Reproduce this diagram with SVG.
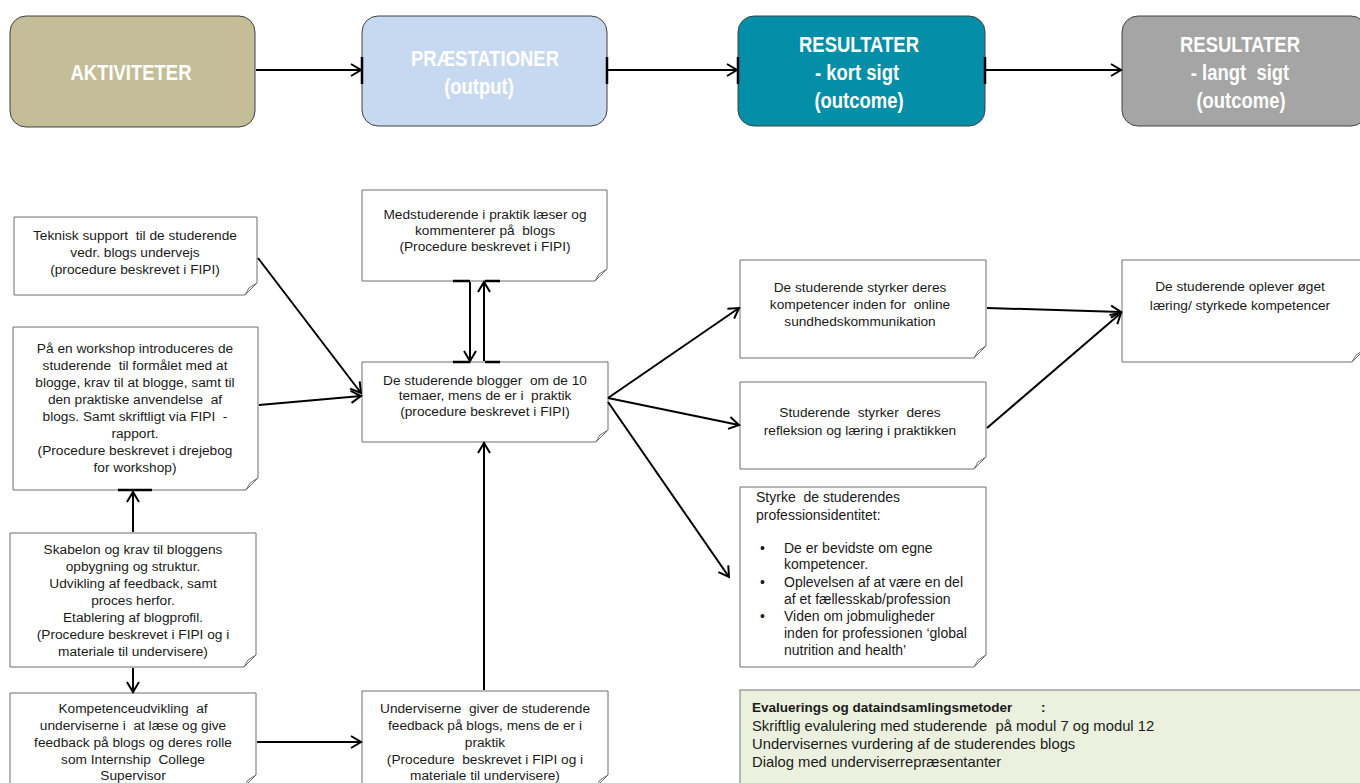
<svg xmlns="http://www.w3.org/2000/svg" width="1360" height="783" viewBox="0 0 1360 783">
<style>
text{font-family:"Liberation Sans",Arial,sans-serif;white-space:pre}
.hd{font-size:22px;font-weight:bold;fill:#ffffff;text-anchor:middle}
.nt{font-size:13.7px;fill:#1a1a1a;text-anchor:middle}
.lt{font-size:14px;fill:#1a1a1a}
.box{fill:#ffffff;stroke:#6e6e6e;stroke-width:1}
.fold{fill:#ffffff;stroke:#6e6e6e;stroke-width:1}
.hbox{stroke:#404040;stroke-width:1}
.cn{stroke:#000;stroke-width:2;fill:none;marker-end:url(#ah)}
.tk{stroke:#000;stroke-width:2.5}
.ev{font-size:14.8px;fill:#1a1a1a}
.evb{font-size:13.5px;font-weight:bold;fill:#1a1a1a}
</style>
<defs>
<marker id="ah" markerUnits="userSpaceOnUse" markerWidth="14" markerHeight="16" refX="12" refY="8" orient="auto">
<path d="M2,2 L12,8 L2,14" fill="none" stroke="#000" stroke-width="2"/>
</marker>
</defs>
<rect width="1360" height="783" fill="#ffffff"/>

<g id="hdr-aktiviteter">
<rect class="hbox" x="10" y="16" width="245" height="111" rx="16" fill="#c4bd97"/>
<text class="hd" transform="translate(131,80) scale(0.84,1)">AKTIVITETER</text>
</g>
<g id="hdr-praestationer">
<rect class="hbox" x="362" y="16" width="245" height="110" rx="16" fill="#c6d9f1"/>
<text class="hd" transform="translate(485,66) scale(0.84,1)">PRÆSTATIONER</text>
<text class="hd" transform="translate(479,94) scale(0.84,1)">(output)</text>
</g>
<g id="hdr-kort">
<rect class="hbox" x="738" y="16" width="247" height="110" rx="16" fill="#058ea8"/>
<text class="hd" transform="translate(859,52) scale(0.84,1)">RESULTATER</text>
<text class="hd" transform="translate(857,80) scale(0.84,1)">- kort sigt</text>
<text class="hd" transform="translate(859,108) scale(0.84,1)">(outcome)</text>
</g>
<g id="hdr-langt">
<rect class="hbox" x="1122" y="16" width="245" height="110" rx="16" fill="#a5a5a5"/>
<text class="hd" transform="translate(1240,52) scale(0.84,1)">RESULTATER</text>
<text class="hd" transform="translate(1240,80) scale(0.84,1)">- langt  sigt</text>
<text class="hd" transform="translate(1241,108) scale(0.84,1)">(outcome)</text>
</g>

<g id="n-teknisk">
<path class="box" d="M14,217 H257 V283 L245,295 H14 Z"/>
<path class="fold" d="M245,295 L249,288 L257,283 Z"/>
<text class="nt" x="135" y="240">Teknisk support  til de studerende</text>
<text class="nt" x="135" y="257">vedr. blogs undervejs</text>
<text class="nt" x="135" y="274">(procedure beskrevet i FIPI)</text>
</g>

<g id="n-workshop">
<path class="box" d="M13,327 H258 V478 L246,490 H13 Z"/>
<path class="fold" d="M246,490 L250,483 L258,478 Z"/>
<text class="nt" x="135" y="353">På en workshop introduceres de</text>
<text class="nt" x="135" y="370">studerende  til formålet med at</text>
<text class="nt" x="135" y="387">blogge, krav til at blogge, samt til</text>
<text class="nt" x="135" y="404">den praktiske anvendelse  af</text>
<text class="nt" x="135" y="421">blogs. Samt skriftligt via FIPI  -</text>
<text class="nt" x="135" y="438">rapport.</text>
<text class="nt" x="135" y="455">(Procedure beskrevet i drejebog</text>
<text class="nt" x="135" y="472">for workshop)</text>
</g>

<g id="n-skabelon">
<path class="box" d="M10,533 H256 V655 L244,667 H10 Z"/>
<path class="fold" d="M244,667 L248,660 L256,655 Z"/>
<text class="nt" x="133" y="554">Skabelon og krav til bloggens</text>
<text class="nt" x="133" y="571">opbygning og struktur.</text>
<text class="nt" x="133" y="588">Udvikling af feedback, samt</text>
<text class="nt" x="133" y="605">proces herfor.</text>
<text class="nt" x="133" y="622">Etablering af blogprofil.</text>
<text class="nt" x="133" y="639">(Procedure beskrevet i FIPI og i</text>
<text class="nt" x="133" y="656">materiale til undervisere)</text>
</g>

<g id="n-kompetence">
<path class="box" d="M10,693 H256 V775 L244,787 H10 Z"/>
<path class="fold" d="M244,787 L248,780 L256,775 Z"/>
<text class="nt" x="133" y="713">Kompetenceudvikling  af</text>
<text class="nt" x="133" y="730">underviserne i  at læse og give</text>
<text class="nt" x="133" y="747">feedback på blogs og deres rolle</text>
<text class="nt" x="133" y="764">som Internship  College</text>
<text class="nt" x="133" y="780">Supervisor</text>
</g>

<g id="n-medstuderende">
<path class="box" d="M362,190 H607 V269 L595,281 H362 Z"/>
<path class="fold" d="M595,281 L599,274 L607,269 Z"/>
<text class="nt" x="485" y="219">Medstuderende i praktik læser og</text>
<text class="nt" x="485" y="235">kommenterer på  blogs</text>
<text class="nt" x="485" y="251">(Procedure beskrevet i FIPI)</text>
</g>

<g id="n-blogger">
<path class="box" d="M362,362 H608 V430 L596,442 H362 Z"/>
<path class="fold" d="M596,442 L600,435 L608,430 Z"/>
<text class="nt" x="485" y="385">De studerende blogger  om de 10</text>
<text class="nt" x="485" y="400">temaer, mens de er i  praktik</text>
<text class="nt" x="485" y="416">(procedure beskrevet i FIPI)</text>
</g>

<g id="n-underviserne">
<path class="box" d="M362,691 H608 V775 L596,787 H362 Z"/>
<path class="fold" d="M596,787 L600,780 L608,775 Z"/>
<text class="nt" x="485" y="713">Underviserne  giver de studerende</text>
<text class="nt" x="485" y="730">feedback på blogs, mens de er i</text>
<text class="nt" x="485" y="747">praktik</text>
<text class="nt" x="485" y="764">(Procedure  beskrevet i FIPI og i</text>
<text class="nt" x="485" y="780">materiale til undervisere)</text>
</g>

<g id="n-online">
<path class="box" d="M740,260 H986 V346 L974,358 H740 Z"/>
<path class="fold" d="M974,358 L978,351 L986,346 Z"/>
<text class="nt" x="860" y="292">De studerende styrker deres</text>
<text class="nt" x="860" y="309">kompetencer inden for  online</text>
<text class="nt" x="860" y="326">sundhedskommunikation</text>
</g>

<g id="n-refleksion">
<path class="box" d="M740,382 H986 V457 L974,469 H740 Z"/>
<path class="fold" d="M974,469 L978,462 L986,457 Z"/>
<text class="nt" x="860" y="417">Studerende  styrker  deres</text>
<text class="nt" x="860" y="435">refleksion og læring i praktikken</text>
</g>

<g id="n-oplever">
<path class="box" d="M1122,260 H1364 V350 L1352,362 H1122 Z"/>
<path class="fold" d="M1352,362 L1356,355 L1364,350 Z"/>
<text class="nt" x="1240" y="291">De studerende oplever øget</text>
<text class="nt" x="1240" y="310">læring/ styrkede kompetencer</text>
</g>

<g id="n-identitet">
<path class="box" d="M740,487 H986 V655 L974,667 H740 Z"/>
<path class="fold" d="M974,667 L978,660 L986,655 Z"/>
<text class="lt" x="756" y="502">Styrke  de studerendes</text>
<text class="lt" x="756" y="520">professionsidentitet:</text>
<text class="lt" x="760" y="553">•</text>
<text class="lt" x="784" y="553">De er bevidste om egne</text>
<text class="lt" x="784" y="569">kompetencer.</text>
<text class="lt" x="760" y="587">•</text>
<text class="lt" x="784" y="587">Oplevelsen af at være en del</text>
<text class="lt" x="784" y="604">af et fællesskab/profession</text>
<text class="lt" x="760" y="621">•</text>
<text class="lt" x="784" y="621">Viden om jobmuligheder</text>
<text class="lt" x="784" y="638">inden for professionen ‘global</text>
<text class="lt" x="784" y="655">nutrition and health’</text>
</g>

<g id="n-evaluering">
<rect x="740" y="690" width="630" height="100" fill="#ebf1de" stroke="#8c8c8c" stroke-width="1.2"/>
<text class="evb" x="752" y="712">Evaluerings og dataindsamlingsmetoder</text>
<text class="evb" x="1041" y="712">:</text>
<text class="ev" x="752" y="731">Skriftlig evalulering med studerende  på modul 7 og modul 12</text>
<text class="ev" x="752" y="749">Undervisernes vurdering af de studerendes blogs</text>
<text class="ev" x="752" y="767">Dialog med underviserrepræsentanter</text>
</g>

<g id="connectors">
<line class="cn" x1="256" y1="70" x2="361" y2="70"/>
<line class="cn" x1="608" y1="70" x2="737" y2="70"/>
<line class="cn" x1="986" y1="70" x2="1121" y2="70"/>
<line class="tk" x1="362" y1="57" x2="362" y2="84"/>
<line class="tk" x1="607" y1="57" x2="607" y2="84"/>
<line class="tk" x1="738" y1="57" x2="738" y2="84"/>
<line class="tk" x1="985" y1="57" x2="985" y2="84"/>
<line class="cn" x1="258" y1="258" x2="361" y2="393"/>
<line class="cn" x1="259" y1="405" x2="361" y2="396"/>
<line class="cn" x1="133" y1="532" x2="133" y2="492"/>
<line class="tk" x1="118" y1="490" x2="152" y2="490"/>
<line class="cn" x1="133" y1="668" x2="133" y2="692"/>
<line class="cn" x1="257" y1="742" x2="361" y2="742"/>
<line class="cn" x1="484" y1="690" x2="484" y2="443"/>
<line class="cn" x1="470" y1="282" x2="470" y2="361"/>
<line class="cn" x1="484" y1="361" x2="484" y2="282"/>
<line class="tk" x1="453" y1="281" x2="470" y2="281"/>
<line class="tk" x1="485" y1="281" x2="500" y2="281"/>
<line class="tk" x1="453" y1="362" x2="470" y2="362"/>
<line class="tk" x1="485" y1="362" x2="500" y2="362"/>
<line class="cn" x1="608" y1="398" x2="739" y2="308"/>
<line class="cn" x1="608" y1="398" x2="739" y2="425"/>
<line class="cn" x1="608" y1="402" x2="729" y2="577"/>
<line class="cn" x1="987" y1="308" x2="1121" y2="312"/>
<line class="cn" x1="987" y1="428" x2="1121" y2="313"/>
</g>
</svg>
